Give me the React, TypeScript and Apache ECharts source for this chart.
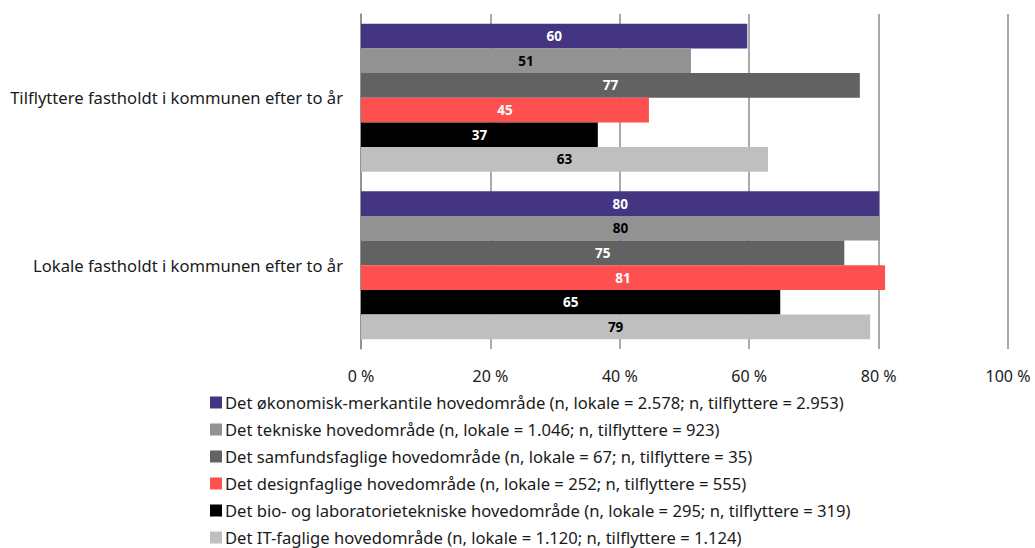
import React, { useEffect, useRef } from "react";
import * as echarts from "echarts";

const categories = [
  "Tilflyttere fastholdt i kommunen efter to år",
  "Lokale fastholdt i kommunen efter to år",
];

const seriesNames = [
  "Det økonomisk-merkantile hovedområde (n, lokale = 2.578; n, tilflyttere = 2.953)",
  "Det tekniske hovedområde (n, lokale = 1.046; n, tilflyttere = 923)",
  "Det samfundsfaglige hovedområde (n, lokale = 67; n, tilflyttere = 35)",
  "Det designfaglige hovedområde (n, lokale = 252; n, tilflyttere = 555)",
  "Det bio- og laboratorietekniske hovedområde (n, lokale = 295; n, tilflyttere = 319)",
  "Det IT-faglige hovedområde (n, lokale = 1.120; n, tilflyttere = 1.124)",
];

const tilflyttere = [59.7, 51.0, 77.1, 44.5, 36.6, 62.9];
const lokale = [80.1, 80.2, 74.7, 81.0, 64.8, 78.7];

const colors = ["#433581", "#929292", "#626262", "#FF5050", "#000000", "#BFBFBF"];
const labelColors = ["#ffffff", "#000000", "#ffffff", "#ffffff", "#ffffff", "#000000"];

const FONT = "Noto Sans";

export default function App() {
  const ref = useRef<HTMLDivElement>(null);
  useEffect(() => {
    if (!ref.current) return;
    const chart = echarts.init(ref.current, undefined, { renderer: "svg" });
    chart.setOption({
      animation: false,
      textStyle: { fontFamily: FONT },
      grid: { left: 361, right: 27, top: 14, bottom: 199, containLabel: false },
      legend: {
        orient: "vertical",
        left: 210,
        top: 394,
        height: 170,
        padding: 0,
        itemWidth: 12,
        itemHeight: 12,
        itemGap: 10,
        icon: "rect",
        textStyle: { fontFamily: FONT, fontSize: 16.6, color: "#1a1a1a", lineHeight: 16, padding: [0, 0, 0, -2] },
        data: seriesNames,
      },
      xAxis: {
        type: "value",
        min: 0,
        max: 100,
        interval: 20,
        axisLine: { show: false },
        axisTick: { show: false },
        axisLabel: {
          formatter: "{value} %",
          fontFamily: FONT,
          fontSize: 16,
          color: "#1a1a1a",
          margin: 19,
        },
        splitLine: { show: true, lineStyle: { color: "#8c8c8c", width: 1.5 } },
      },
      yAxis: {
        type: "category",
        inverse: true,
        data: categories,
        axisLine: { show: true, lineStyle: { color: "#8c8c8c", width: 1.5 } },
        axisTick: { show: false },
        axisLabel: { fontFamily: FONT, fontSize: 16.6, color: "#1a1a1a", margin: 18 },
      },
      series: seriesNames.map((name, i) => ({
        name,
        type: "bar",
        data: [tilflyttere[i], lokale[i]],
        barGap: "0%",
        barCategoryGap: "11.6%",
        itemStyle: { color: colors[i] },
        label: {
          show: true,
          position: "inside",
          fontFamily: FONT,
          fontWeight: "bold",
          fontSize: 13.5,
          color: labelColors[i],
          formatter: (p: any) => String(Math.round(p.value)),
        },
      })),
    });
    return () => chart.dispose();
  }, []);
  return <div ref={ref} style={{ width: 1035, height: 548, position: "absolute", left: 0, top: 0 }} />;
}
